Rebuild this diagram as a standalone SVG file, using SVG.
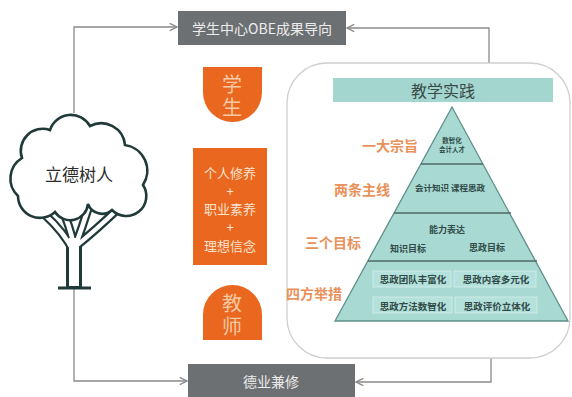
<svg xmlns="http://www.w3.org/2000/svg" width="572" height="397" viewBox="0 0 572 397">
<defs>
<style>
.cjk{font-family:"Noto Sans CJK SC","Noto Sans",sans-serif;}
.conn{fill:none;stroke:#8a8a8a;stroke-width:1.3;}
.gbox{fill:#6d7073;}
.gtxt{fill:#ececec;font-size:14px;text-anchor:middle;dominant-baseline:central;}
.org{fill:#e9671f;}
.vt{fill:#f7c9a2;font-size:20px;writing-mode:vertical-rl;text-anchor:middle;letter-spacing:3px;}
.lbl{fill:#e9915a;font-size:14px;text-anchor:middle;dominant-baseline:central;font-weight:bold;}
.ptxt{fill:#2f4a47;text-anchor:middle;dominant-baseline:central;font-weight:bold;}
.tdark{fill:none;stroke:#1f3a39;stroke-linecap:butt;}
.twhite{fill:none;stroke:#ffffff;stroke-linecap:butt;}
</style>
<marker id="arr" viewBox="0 0 10 10" refX="9" refY="5" markerWidth="7" markerHeight="7" orient="auto">
<path d="M1,1 L9,5 L1,9" fill="none" stroke="#8a8a8a" stroke-width="1.5"/>
</marker>
</defs>
<rect width="572" height="397" fill="#ffffff"/>

<g id="connectors">
<path class="conn" d="M74,113 V27 H177" marker-end="url(#arr)"/>
<path class="conn" d="M74,289 V381 H187" marker-end="url(#arr)"/>
<path class="conn" d="M489,64 V28 H347" marker-end="url(#arr)"/>
<path class="conn" d="M491,358 V382 H356" marker-end="url(#arr)"/>
</g>

<g id="obe">
<rect class="gbox" x="178" y="11" width="168" height="34"/>
<text class="cjk gtxt" x="262" y="28">学生中心OBE成果导向</text>
</g>

<g id="deye">
<rect class="gbox" x="188" y="364" width="167" height="33"/>
<text class="cjk gtxt" x="271" y="381">德业兼修</text>
</g>

<g id="tree">
<path class="tdark" stroke-width="9" d="M74,252 Q64,232 44,214 M74,246 Q70,226 60,204 M74,250 Q82,228 90,203 M76,246 Q96,230 120,207"/>
<path class="tdark" stroke-width="16" d="M74,288 V240"/>
<path class="twhite" stroke-width="4.5" d="M74,252 Q64,232 44,214 M74,246 Q70,226 60,204 M74,250 Q82,228 90,203 M76,246 Q96,230 120,207"/>
<path class="twhite" stroke-width="10" d="M74,286 V238"/>
<path d="M58,288 H91" stroke="#1f3a39" stroke-width="3"/>
<path d="M55,212 A22 22 0 0 1 18,196 A24 24 0 0 1 22,158 A22 22 0 0 1 50,130 A22 22 0 0 1 90,126 A24 24 0 0 1 125,145 A26 26 0 0 1 143,185 A20 20 0 0 1 112,210 A15 15 0 0 1 88,204 A18 18 0 0 1 55,212 Z" fill="#ffffff" stroke="#1f3a39" stroke-width="2.6"/>
<text class="cjk" x="79" y="173" font-size="17" text-anchor="middle" dominant-baseline="central" fill="#2b2b2b">立德树人</text>
</g>

<g id="student">
<path class="org" d="M203,67 H262 V92.5 A29.5 29.5 0 0 1 203,92.5 Z"/>
<text class="cjk vt" x="232" y="97">学生</text>
</g>

<g id="qualities">
<rect class="org" x="193" y="148" width="74" height="117"/>
<g class="cjk" font-size="13" text-anchor="middle" fill="#fbe3d0">
<text x="230" y="172" dominant-baseline="central">个人修养</text>
<text x="230" y="190" dominant-baseline="central">+</text>
<text x="230" y="208" dominant-baseline="central">职业素养</text>
<text x="230" y="226" dominant-baseline="central">+</text>
<text x="230" y="245" dominant-baseline="central">理想信念</text>
</g>
</g>

<g id="teacher">
<path class="org" d="M203,340 V314.5 A29.5 29.5 0 0 1 262,314.5 V340 Z"/>
<text class="cjk vt" x="232" y="316">教师</text>
</g>

<g id="practice">
<rect x="287" y="63" width="283" height="295" rx="40" ry="40" fill="#ffffff" stroke="#cfcfcf" stroke-width="1.3"/>
<rect x="333" y="78" width="220" height="24" fill="#a3d6cf"/>
<text class="cjk" x="443" y="90" font-size="16" text-anchor="middle" dominant-baseline="central" fill="#3a4a48">教学实践</text>
<path d="M452,107 L335,321 H568 Z" fill="#a8d9d2" stroke="#5e8f89" stroke-width="1.3"/>
<path d="M421,164 H483 M394,213 H511 M368,261 H537" stroke="#4f6a67" stroke-width="1.5"/>
<g fill="#b4e1db" stroke="#d6eeea" stroke-width="0.8">
<rect x="373" y="271" width="78" height="16"/>
<rect x="454" y="271" width="82" height="16"/>
<rect x="373" y="297" width="79" height="16"/>
<rect x="455" y="297" width="82" height="16"/>
</g>
<g class="cjk">
<text class="ptxt" x="452" y="140" font-size="6.5">数智化</text>
<text class="ptxt" x="452" y="149" font-size="6.5">会计人才</text>
<text class="ptxt" x="450" y="187" font-size="8.5">会计知识 课程思政</text>
<text class="ptxt" x="447" y="229" font-size="9">能力表达</text>
<text class="ptxt" x="408" y="248" font-size="9">知识目标</text>
<text class="ptxt" x="487" y="247" font-size="9">思政目标</text>
<text class="ptxt" x="413" y="279" font-size="9.5">思政团队丰富化</text>
<text class="ptxt" x="496" y="279" font-size="9.5">思政内容多元化</text>
<text class="ptxt" x="413" y="306" font-size="9.5">思政方法数智化</text>
<text class="ptxt" x="497" y="306" font-size="9.5">思政评价立体化</text>
</g>
<g class="cjk">
<text class="lbl" x="390" y="145">一大宗旨</text>
<text class="lbl" x="362" y="189">两条主线</text>
<text class="lbl" x="333" y="242">三个目标</text>
<text class="lbl" x="314" y="293">四方举措</text>
</g>
</g>
</svg>
